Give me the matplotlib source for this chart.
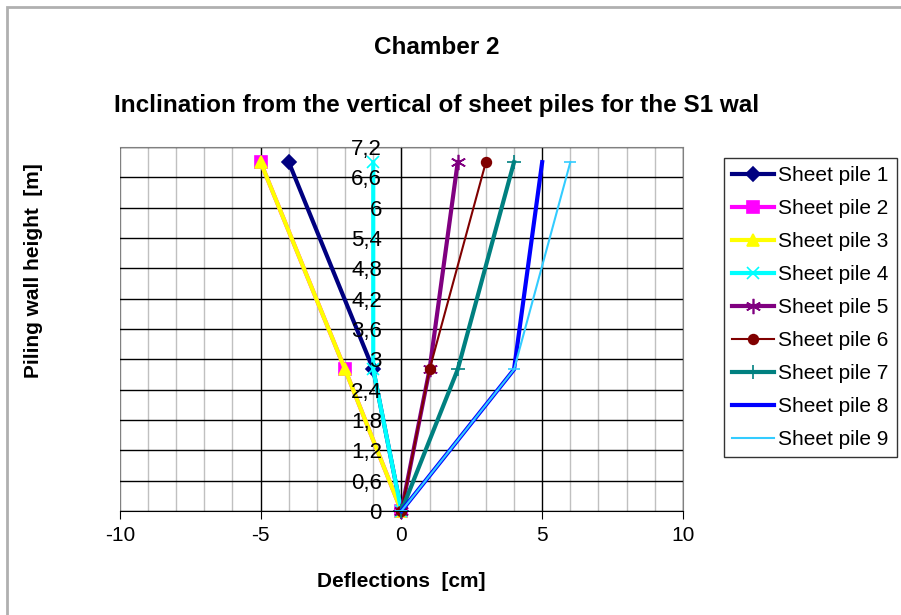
import matplotlib.pyplot as plt
from matplotlib.patches import Rectangle

plt.rcParams['font.family'] = ['Liberation Sans', 'DejaVu Sans']
plt.rcParams['axes.unicode_minus'] = False

# Data: deflection (cm) at each height (m) for each sheet pile
heights = [0, 2.8, 6.9]
pile1 = [0, -1, -4]
pile2 = [0, -2, -5]
pile3 = [0, -2, -5]
pile4 = [0, -1, -1]
pile5 = [0, 1, 2]
pile6 = [0, 1, 3]
pile7 = [0, 2, 4]
pile8 = [0, 4, 5]
pile9 = [0, 4, 6]
labels = ["Sheet pile %d" % i for i in range(1, 10)]

y_ticks = [0, 0.6, 1.2, 1.8, 2.4, 3, 3.6, 4.2, 4.8, 5.4, 6, 6.6, 7.2]
y_tick_labels = ["0", "0,6", "1,2", "1,8", "2,4", "3", "3,6", "4,2",
                 "4,8", "5,4", "6", "6,6", "7,2"]
x_ticks = [-10, -5, 0, 5, 10]

fig = plt.figure(figsize=(9.01, 6.15), dpi=100)
ax = fig.add_axes([0.133, 0.169, 0.625, 0.592])

# series styles (colour, marker, line width, marker size)
styles = [
    ("#000080", "D", 3, 7),
    ("#FF00FF", "s", 3, 9),
    ("#FFFF00", "^", 3, 9),
    ("#00FFFF", "x", 3, 8),
    ("#800080", (6, 2, 0), 3, 11),
    ("#800000", "o", 1.5, 7),
    ("#008080", "+", 3, 10),
    ("#0000FF", "None", 3, 8),
    ("#33CCFF", "_", 1.5, 9),
]
series = [pile1, pile2, pile3, pile4, pile5, pile6, pile7, pile8, pile9]

for vals, lab, (col, mk, lw, ms) in zip(series, labels, styles):
    ax.plot(vals, heights, color=col, marker=mk, linewidth=lw,
            markersize=ms, markeredgewidth=1.2, label=lab, clip_on=False,
            zorder=2)

ax.set_xlim(-10, 10)
ax.set_ylim(0, 7.2)
ax.set_xticks(x_ticks)
ax.set_xticks(range(-10, 11), minor=True)
ax.set_yticks(y_ticks)
ax.set_yticklabels(y_tick_labels)

# grid drawn by hand below the lines: light minor verticals, black majors
for xv in range(-10, 11):
    col = 'black' if xv % 5 == 0 else '#c0c0c0'
    if xv == -10:
        col = '#808080'
    ax.axvline(xv, color=col, linewidth=1, zorder=0.5)
for yv in y_ticks:
    ax.axhline(yv, color='black', linewidth=1, zorder=0.5)

ax.spines['left'].set_position(('data', 0))
ax.spines['left'].set_color('black')
ax.spines['bottom'].set_color('black')
for s in ['top', 'right']:
    ax.spines[s].set_color('#808080')
# tick labels on top of the lines
ax.yaxis.set_zorder(5)
ax.spines['left'].set_zorder(1)

ax.tick_params(axis='both', which='both', labelsize=15, length=6)
ax.tick_params(axis='x', which='minor', length=0)
ax.tick_params(axis='x', pad=5)
ax.tick_params(axis='y', pad=14, length=0, labelsize=16)

ax.set_xlabel("Deflections  [cm]", fontsize=15, fontweight='bold', labelpad=19)
fig.text(0.037, 0.56, "Piling wall height  [m]", rotation=90, fontsize=15,
         fontweight='bold', ha='center', va='center')

fig.text(0.485, 0.922, "Chamber 2", fontsize=17.5, fontweight='bold',
         ha='center', va='center')
fig.text(0.485, 0.829, "Inclination from the vertical of sheet piles for the S1 wal",
         fontsize=17.5, fontweight='bold', ha='center', va='center')

leg = fig.legend(loc='upper left', bbox_to_anchor=(0.8035, 0.743),
                 bbox_transform=fig.transFigure, borderaxespad=0,
                 fontsize=15, frameon=True, fancybox=False, edgecolor='black',
                 labelspacing=0.67, handlelength=2.0, handletextpad=0.2,
                 borderpad=0.4)
leg.get_frame().set_linewidth(1)

# outer chart border
fig.patches.append(Rectangle((0.0078, -0.1), 1.2, 1.0885, transform=fig.transFigure,
                             fill=False, edgecolor='#b0b0b0', linewidth=2))

plt.savefig("out.png", dpi=100)
